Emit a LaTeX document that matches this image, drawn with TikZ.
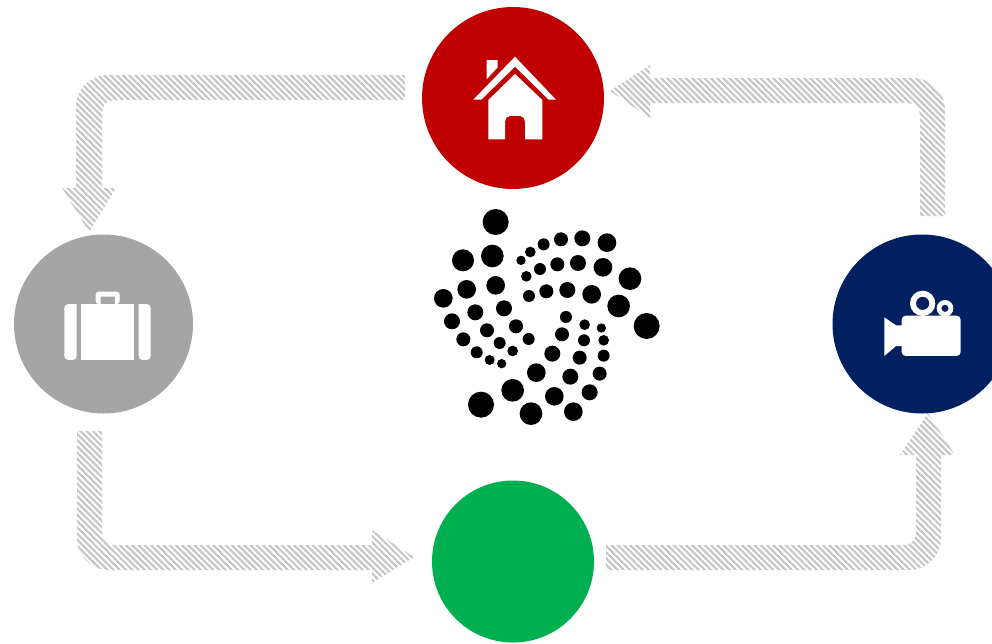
\documentclass[tikz,border=0pt]{standalone}
\usetikzlibrary{patterns.meta}
\definecolor{hubred}{HTML}{C00000}
\definecolor{hubgray}{HTML}{A5A5A5}
\definecolor{hubnavy}{HTML}{002060}
\definecolor{hubgreen}{HTML}{00B050}
\definecolor{stripe}{HTML}{C6C6C6}
\tikzset{
  hub/.style={circle,draw=none,inner sep=0pt,minimum size=#1},
  flowarrow/.style={draw=none,pattern={Lines[angle=-45,distance=4.4pt,line width=2.2pt]},pattern color=stripe},
  icon/.style={fill=white,draw=none},
  zoomed/.style={shift={#1},x=0.3333pt,y=-0.3333pt}
}
\newcommand{\dotlist}{227/66/39,217/168/34,129/181/33,227/256/28,140/268/28,70/295/28,252/325/24,166/337/24,96/364/24,201/391/21,288/379/21,130/418/21,239/429/18,326/417/18,170/457/18,278/453/16,209/480/15,245/491/14,303/181/14,331/156/16,371/133/18,423/118/21,487/115/24,561/128/28,319/229/16,360/207/18,412/193/21,474/189/24,549/202/28,630/236/34,327/288/18,379/274/21,442/270/24,515/283/28,596/318/34,680/378/39,438/351/18,494/374/16,544/384/14,426/403/21,492/421/18,551/421/16,397/461/24,479/473/21,551/467/18,349/518/28,451/530/24,539/521/21,278/571/34,403/589/28,509/577/24,183/614/39,333/641/34,460/635/28}
\begin{document}
\begin{tikzpicture}[x=1pt,y=-1pt]
\useasboundingbox (0,0) rectangle (992,643);
\clip (0,0) rectangle (992,643);
% arrows
\fill[flowarrow]
  (405,75) -- (108,75) arc[start angle=-90,end angle=-180,radius=32] -- (76,188) -- (62,188) -- (89,232) -- (116,188) -- (102,188) -- (102,112) arc[start angle=180,end angle=270,radius=12] -- (405,100) -- cycle;
\fill[flowarrow]
  (945,216) -- (945,110) arc[start angle=0,end angle=-90,radius=32] -- (650,78) -- (650,65) -- (610,91) -- (650,118) -- (650,103) -- (908,103) arc[start angle=-90,end angle=0,radius=12] -- (920,216) -- cycle;
\fill[flowarrow]
  (77,431) -- (77,538) arc[start angle=180,end angle=90,radius=32] -- (372,570) -- (372,583) -- (414,557) -- (372,530) -- (372,545) -- (114,545) arc[start angle=90,end angle=180,radius=12] -- (102,431) -- cycle;
\fill[flowarrow]
  (606,545) -- (904,545) arc[start angle=90,end angle=0,radius=12] -- (916,455) -- (900,455) -- (928,413) -- (955,455) -- (941,455) -- (941,538) arc[start angle=0,end angle=90,radius=32] -- (606,570) -- cycle;
% hubs
\node[hub=182pt,fill=hubred] (home) at (513,98) {};
\node[hub=179pt,fill=hubgray] (work) at (103.5,324) {};
\node[hub=179pt,fill=hubnavy] (media) at (922,324) {};
\node[hub=162pt,fill=hubgreen] (car) at (513,561.5) {};
% logo
\begin{scope}[zoomed={(420,200)}]
\foreach \px/\py/\pr in \dotlist { \fill[black] (\px,\py) circle[radius=\pr]; }
\end{scope}
% house
\begin{scope}[zoomed={(460,50)}]
\fill[icon] (165,20) -- (288,149) -- (266,149) -- (165,50) -- (64,149) -- (40,149) -- cycle;
\fill[icon] (80,30) -- (113,30) -- (113,52) -- (80,88) -- cycle;
\fill[icon] (85,150) -- (165,72) -- (247,150) -- (247,268) -- (195,268) -- (195,215) to[out=90,in=0] (180,198) -- (150,198) to[out=180,in=90] (135,215) -- (135,268) -- (85,268) -- cycle;
\end{scope}
% camera
\begin{scope}[zoomed={(870,280)}]
\fill[icon] (43,112) -- (78,136) -- (105,136) -- (105,198) -- (78,198) -- (43,228) -- cycle;
\fill[icon,rounded corners=4pt] (95,107) rectangle (272,228);
\fill[icon,even odd rule] (158,70) circle[radius=38] (158,70) circle[radius=20];
\fill[icon,even odd rule] (225,85) circle[radius=25] (225,85) circle[radius=11];
\end{scope}
% briefcase
\begin{scope}[zoomed={(55,280)}]
\fill[icon,rounded corners=4pt] (65,72) -- (28,72) -- (28,240) -- (65,240) [sharp corners] -- cycle;
\fill[icon] (79,72) rectangle (237,240);
\fill[icon,rounded corners=4pt] (251,72) -- (287,72) -- (287,240) -- (251,240) [sharp corners] -- cycle;
\fill[icon,even odd rule] [rounded corners=3pt] (122,72) -- (122,35) -- (194,35) -- (194,72) -- cycle [sharp corners] (137,72) -- (137,50) -- (180,50) -- (180,72) -- cycle;
\end{scope}
\end{tikzpicture}
\end{document}
